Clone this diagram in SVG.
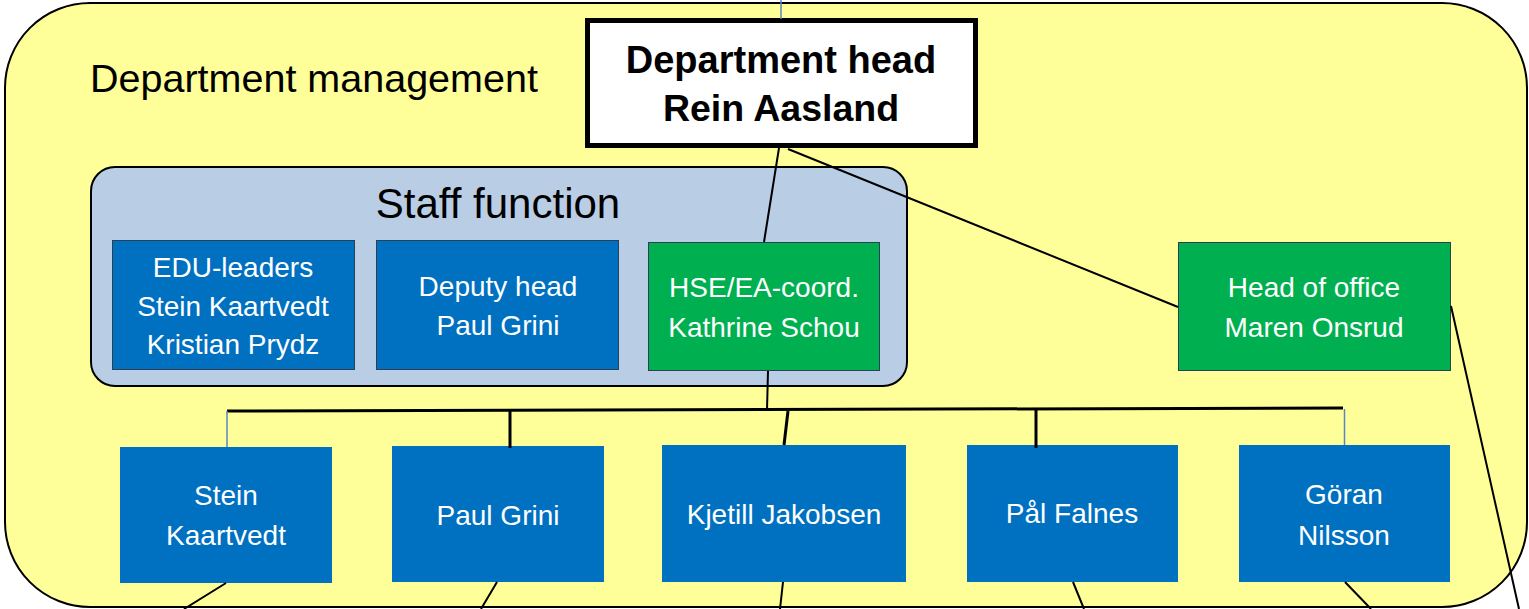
<svg xmlns="http://www.w3.org/2000/svg" width="1529" height="609" viewBox="0 0 1529 609">
<style>
.t{font-family:"Liberation Sans",Arial,sans-serif;text-anchor:middle}
.w{fill:#fff;font-size:28px}
.blue{fill:#0070C0}
.green{fill:#00B050}
.bd{stroke:#2b3f55;stroke-width:1}
.c{stroke:#000;stroke-width:2;fill:none}
.ck{stroke:#000;stroke-width:3;fill:none}
.cb{stroke:#5B84C4;stroke-width:1.5;fill:none}
</style>
<g id="department-management">
<rect x="5" y="3" width="1522" height="604" rx="85" ry="85" fill="#FFFF99" stroke="#000" stroke-width="2"/>
<text class="t" x="90" y="92" font-size="39.5" style="text-anchor:start">Department management</text>
</g>
<g id="staff-function">
<rect x="91" y="167" width="816" height="219" rx="24" ry="24" fill="#B9CDE5" stroke="#000" stroke-width="2"/>
<text class="t" x="498" y="218" font-size="42">Staff function</text>
</g>
<g id="department-head">
<rect x="587.5" y="20.5" width="388" height="125" fill="#fff" stroke="#000" stroke-width="5"/>
<text class="t" x="781" y="73" font-size="38" font-weight="bold">Department head</text>
<text class="t" x="781" y="121" font-size="37.5" font-weight="bold">Rein Aasland</text>
</g>
<g id="edu-leaders">
<rect class="blue bd" x="112.5" y="240.5" width="242" height="129"/>
<text class="t w" x="233" y="277">EDU-leaders</text>
<text class="t w" x="233" y="316">Stein Kaartvedt</text>
<text class="t w" x="233" y="354">Kristian Prydz</text>
</g>
<g id="deputy-head">
<rect class="blue bd" x="376.5" y="240.5" width="242" height="129"/>
<text class="t w" x="498" y="296">Deputy head</text>
<text class="t w" x="498" y="335">Paul Grini</text>
</g>
<g id="hse-coord">
<rect class="green bd" x="648.5" y="242.5" width="231" height="128"/>
<text class="t w" x="764" y="297">HSE/EA-coord.</text>
<text class="t w" x="764" y="337">Kathrine Schou</text>
</g>
<g id="head-of-office">
<rect class="green bd" x="1178.5" y="242.5" width="272" height="128"/>
<text class="t w" x="1314" y="297">Head of office</text>
<text class="t w" x="1314" y="337">Maren Onsrud</text>
</g>
<g id="stein-kaartvedt">
<rect class="blue" x="120" y="447" width="212" height="136"/>
<text class="t w" x="226" y="505">Stein</text>
<text class="t w" x="226" y="545">Kaartvedt</text>
</g>
<g id="paul-grini">
<rect class="blue" x="392" y="446" width="212" height="136"/>
<text class="t w" x="498" y="525">Paul Grini</text>
</g>
<g id="kjetill-jakobsen">
<rect class="blue" x="662" y="445" width="244" height="137"/>
<text class="t w" x="784" y="524">Kjetill Jakobsen</text>
</g>
<g id="pal-falnes">
<rect class="blue" x="967" y="445" width="211" height="137"/>
<text class="t w" x="1072" y="523">Pål Falnes</text>
</g>
<g id="goran-nilsson">
<rect class="blue" x="1239" y="445" width="211" height="137"/>
<text class="t w" x="1344" y="504">Göran</text>
<text class="t w" x="1344" y="545">Nilsson</text>
</g>
<g id="connectors">
<line class="cb" x1="781" y1="0" x2="781" y2="19"/>
<line class="c" x1="779" y1="148" x2="764" y2="242"/>
<line class="c" x1="788" y1="149" x2="1178" y2="307"/>
<line class="c" x1="768" y1="371" x2="767" y2="410"/>
<line class="ck" x1="227" y1="411" x2="1343" y2="408"/>
<line class="cb" x1="227" y1="411" x2="227" y2="447"/>
<line class="ck" x1="510" y1="411" x2="510" y2="448"/>
<line class="ck" x1="788" y1="411" x2="784" y2="445"/>
<line class="ck" x1="1036" y1="410" x2="1036" y2="448"/>
<line class="cb" x1="1344.5" y1="409" x2="1344.5" y2="445"/>
<line class="c" x1="226" y1="583" x2="184" y2="609"/>
<line class="c" x1="497" y1="582" x2="481" y2="609"/>
<line class="c" x1="783" y1="582" x2="780" y2="609"/>
<line class="c" x1="1073" y1="582" x2="1084" y2="609"/>
<line class="c" x1="1345" y1="582" x2="1371" y2="609"/>
<line class="c" x1="1451" y1="306" x2="1519" y2="609"/>
</g>
</svg>
